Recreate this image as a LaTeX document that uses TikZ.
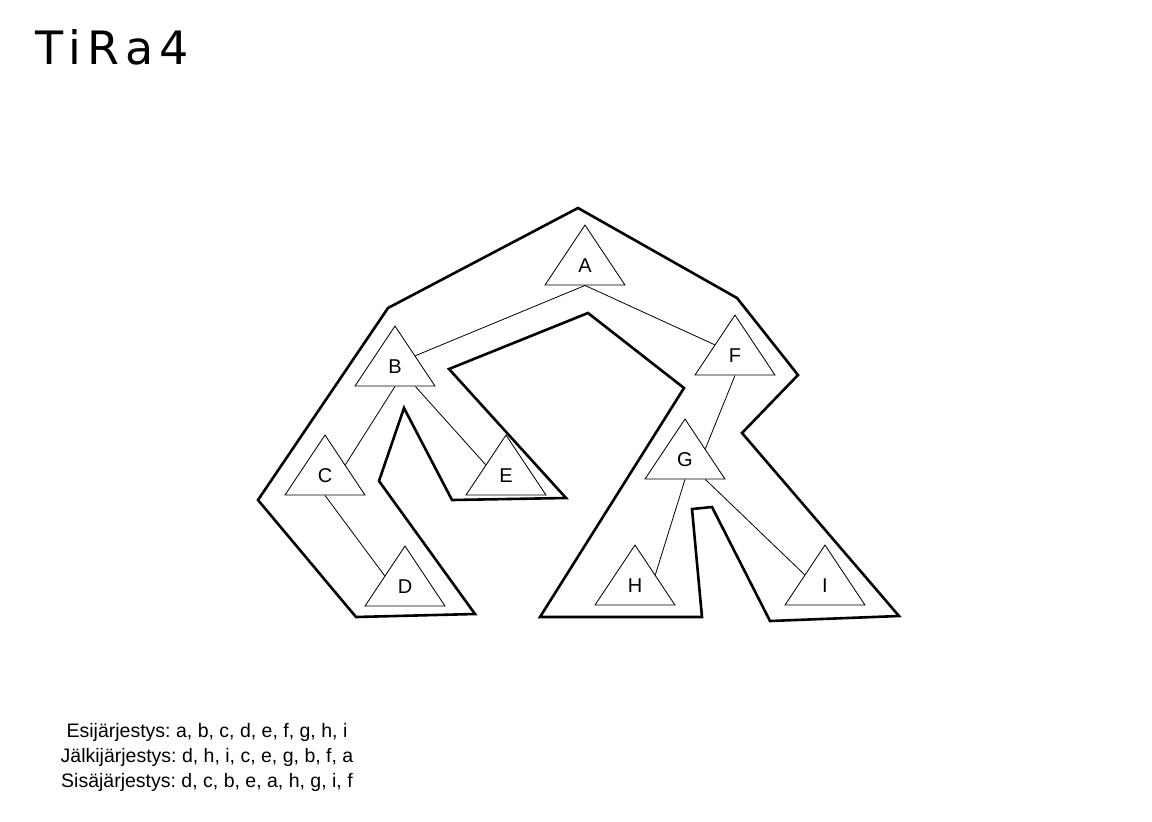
\documentclass[tikz,border=0pt]{standalone}
\usepackage{fontspec}
\setmainfont{Liberation Sans}
\newfontfamily\titlefont[LetterSpace=14]{DejaVu Sans}
\usetikzlibrary{shapes.geometric, calc}
\tikzset{
  tiNode/.style={isosceles triangle, isosceles triangle stretches, shape border rotate=90,
                 draw, line width=0.8pt, minimum width=80pt, minimum height=60pt,
                 inner sep=0pt, anchor=apex, text width=16pt, text height=14pt, text depth=0pt,
                 align=center, font=\fontsize{20}{24}\selectfont},
  tiEdge/.style={line width=0.8pt},
  tiWalk/.style={line width=2.6pt, line join=miter},
}

\begin{document}
\frenchspacing
\begin{tikzpicture}[x=1pt, y=-1pt]
  \useasboundingbox (0,0) rectangle (1152,822);
  \node[anchor=base west, font=\titlefont\fontsize{46}{54}\selectfont] (title) at (32,64) {TiRa4};
  % puun solmut
  \node[tiNode] (A) at (585,224) {A};
  \node[tiNode] (B) at (395,325) {B};
  \node[tiNode] (C) at (325,434) {C};
  \node[tiNode] (D) at (405,545) {D};
  \node[tiNode] (E) at (506,434) {E};
  \node[tiNode] (F) at (735,314) {F};
  \node[tiNode] (G) at (685,418) {G};
  \node[tiNode] (H) at (635,544) {H};
  \node[tiNode] (I) at (825,544) {I};
  % kaaret
  \draw[tiEdge] ($(A.left corner)!0.5!(A.right corner)$) -- ($(B.apex)!0.5!(B.right corner)$);
  \draw[tiEdge] ($(A.left corner)!0.5!(A.right corner)$) -- ($(F.apex)!0.5!(F.left corner)$);
  \draw[tiEdge] ($(B.left corner)!0.5!(B.right corner)$) -- ($(C.apex)!0.5!(C.right corner)$);
  \draw[tiEdge] ($(B.left corner)!0.75!(B.right corner)$) -- ($(E.apex)!0.5!(E.left corner)$);
  \draw[tiEdge] ($(C.left corner)!0.5!(C.right corner)$) -- ($(D.apex)!0.5!(D.left corner)$);
  \draw[tiEdge] ($(F.left corner)!0.5!(F.right corner)$) -- ($(G.apex)!0.5!(G.right corner)$);
  \draw[tiEdge] ($(G.left corner)!0.5!(G.right corner)$) -- ($(H.apex)!0.5!(H.right corner)$);
  \draw[tiEdge] ($(G.left corner)!0.75!(G.right corner)$) -- ($(I.apex)!0.5!(I.left corner)$);
  % kierros puun ympäri
  \draw[tiWalk] (578,208) -- (388,308) -- (258,500) -- (356,617) -- (475,614) -- (379,481)
    -- (404,408) -- (452,500) -- (566,498) -- (449,369) -- (588,313) -- (684,388)
    -- (540,617) -- (702,617) -- (692,509) -- (712,507) -- (770,621) -- (899,616)
    -- (742,433) -- (798,375) -- (737,298) -- cycle;
  \node[align=center, font=\fontsize{19.5}{25}\selectfont] (orders) at (207,757)
    {Esijärjestys: a, b, c, d, e, f, g, h, i\\Jälkijärjestys: d, h, i, c, e, g, b, f, a\\Sisäjärjestys: d, c, b, e, a, h, g, i, f};
\end{tikzpicture}
\end{document}
